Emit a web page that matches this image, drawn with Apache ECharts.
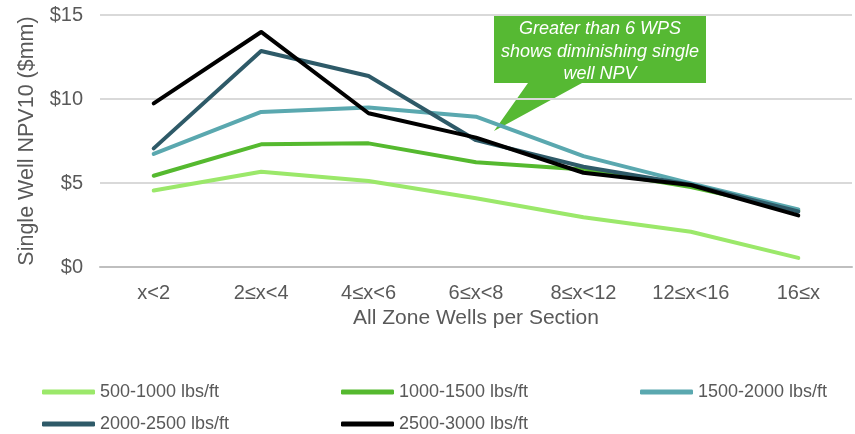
<!DOCTYPE html>
<html>
<head>
<meta charset="utf-8">
<script src="https://cdn.jsdelivr.net/npm/echarts@6/dist/echarts.min.js"></script>
<style>
  html, body { margin: 0; padding: 0; background: #fff; }
  #chart { width: 855px; height: 434px; }
</style>
</head>
<body>
<div id="chart"></div>
<script>
// Wells per section buckets
const categories = ['x<2', '2≤x<4', '4≤x<6', '6≤x<8', '8≤x<12', '12≤x<16', '16≤x'];

// Single well NPV10 ($mm) by proppant loading
const npv500to1000  = [4.55, 5.67, 5.12, 4.09, 2.96, 2.10, 0.54];
const npv1000to1500 = [5.43, 7.30, 7.36, 6.23, 5.81, 4.76, 3.35];
const npv1500to2000 = [6.73, 9.23, 9.50, 8.95, 6.60, 4.98, 3.43];
const npv2000to2500 = [7.06, 12.86, 11.37, 7.55, 5.97, 4.90, 3.30];
const npv2500to3000 = [9.74, 13.99, 9.15, 7.70, 5.61, 4.88, 3.07];

const seriesNames = ['500-1000 lbs/ft', '1000-1500 lbs/ft', '1500-2000 lbs/ft', '2000-2500 lbs/ft', '2500-3000 lbs/ft'];
const seriesValues = [npv500to1000, npv1000to1500, npv1500to2000, npv2000to2500, npv2500to3000];
const seriesColors = ['#9BE86A', '#55B92F', '#5AA8AF', '#2E5A68', '#000000'];

const yTicks = [0, 5, 10, 15];

const textColor = '#595959';
const fontFamily = '"Liberation Sans", Arial, sans-serif';

const chart = echarts.init(document.getElementById('chart'), null, { renderer: 'canvas' });

// legend laid out as a 3-column grid, one legend block per entry
const legendSlots = [
  { left: 42, top: 383 }, { left: 341, top: 383 }, { left: 640, top: 383 },
  { left: 42, top: 415 }, { left: 341, top: 415 }
];

const option = {
  animation: false,
  backgroundColor: '#ffffff',
  textStyle: { fontFamily: fontFamily },
  grid: { left: 100, right: 3, top: 15, bottom: 167, containLabel: false },
  xAxis: {
    type: 'category',
    data: categories,
    boundaryGap: true,
    name: 'All Zone Wells per Section',
    nameLocation: 'middle',
    nameGap: 39,
    nameTextStyle: { color: textColor, fontSize: 21, fontFamily: fontFamily },
    axisLine: { show: true, lineStyle: { color: '#bfbfbf', width: 2 } },
    axisTick: { show: false },
    axisLabel: { color: textColor, fontSize: 20, margin: 16, fontFamily: fontFamily }
  },
  yAxis: {
    type: 'value',
    min: yTicks[0],
    max: yTicks[yTicks.length - 1],
    interval: 5,
    name: 'Single Well NPV10 ($mm)',
    nameLocation: 'middle',
    nameRotate: 90,
    nameGap: 62,
    nameTextStyle: { color: textColor, fontSize: 21.5, fontFamily: fontFamily },
    axisLine: { show: false },
    axisTick: { show: false },
    axisLabel: {
      color: textColor, fontSize: 20, margin: 17, fontFamily: fontFamily,
      formatter: v => '$' + v
    },
    splitLine: { show: true, lineStyle: { color: '#d9d9d9', width: 2 } }
  },
  legend: seriesNames.map((name, i) => ({
    data: [name],
    left: legendSlots[i].left,
    top: legendSlots[i].top,
    orient: 'horizontal',
    padding: 0,
    icon: 'roundRect',
    itemWidth: 53,
    itemHeight: 5,
    textStyle: { color: textColor, fontSize: 18, fontFamily: fontFamily }
  })),
  series: seriesNames.map((name, i) => ({
    name: name,
    type: 'line',
    data: seriesValues[i],
    symbol: 'none',
    showSymbol: false,
    lineStyle: { color: seriesColors[i], width: 4, cap: 'round', join: 'round' },
    itemStyle: { color: seriesColors[i] },
    z: 2 + i
  })),
  graphic: [
    {
      type: 'group',
      z: 100,
      children: [
        {
          type: 'polygon',
          shape: {
            points: [[494, 16], [706, 16], [706, 83], [582, 83], [494, 131], [528, 83], [494, 83]]
          },
          style: { fill: '#56B933' }
        },
        {
          type: 'text',
          style: {
            x: 600, y: 18,
            text: 'Greater than 6 WPS\nshows diminishing single\nwell NPV',
            fill: '#ffffff',
            font: 'italic 18px "Liberation Sans", Arial, sans-serif',
            align: 'center',
            verticalAlign: 'top',
            lineHeight: 22.5
          }
        }
      ]
    }
  ]
};

chart.setOption(option);
</script>
</body>
</html>
